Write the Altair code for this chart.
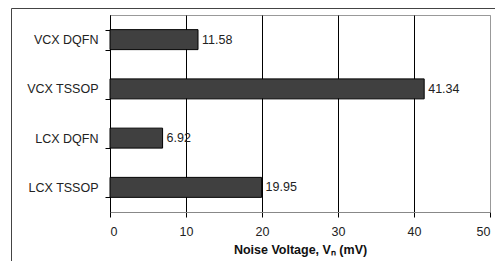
import altair as alt
import pandas as pd

categories = ["VCX DQFN", "VCX TSSOP", "LCX DQFN", "LCX TSSOP"]
values = [11.58, 41.34, 6.92, 19.95]
x_ticks = [0, 10, 20, 30, 40, 50]
x_title = "Noise Voltage, V\u2099 (mV)"

df = pd.DataFrame({"pkg": categories, "noise": values})
df["label"] = [f"{v:.2f}" for v in values]

W, H = 380, 197
FONT = "Liberation Sans"
FS = 12.5

y_enc = alt.Y(
    "pkg:N",
    sort=categories,
    scale=alt.Scale(paddingInner=0.594, paddingOuter=0.297),
    axis=alt.Axis(
        title=None,
        tickBand="extent",
        domainColor="#000",
        tickColor="#000",
        tickSize=5,
        labelPadding=7,
        labelFont=FONT,
        labelFontSize=FS,
        labelColor="#222",
        grid=False,
    ),
)

x_enc = alt.X(
    "noise:Q",
    scale=alt.Scale(domain=[0, 50], nice=False),
    axis=alt.Axis(
        values=x_ticks,
        title=x_title,
        grid=True,
        gridColor={"condition": {"test": "datum.value === 50", "value": "#999"}, "value": "#000"},
        gridOpacity=1,
        domainColor="#888",
        tickColor="#000",
        tickSize=5,
        labelPadding=8,
        labelFont=FONT,
        labelFontSize=FS,
        labelColor="#222",
        titleFont=FONT,
        titleFontSize=12.5,
        titleFontWeight="bold",
        titleColor="#111",
        titlePadding=6,
    ),
)

bars = alt.Chart(df).mark_bar(color="#404040", stroke="#000", strokeWidth=1).encode(
    x=x_enc, y=y_enc
)

labels = alt.Chart(df).mark_text(
    align="left", baseline="middle", dx=4, font=FONT, fontSize=FS, color="#222"
).encode(x="noise:Q", y=alt.Y("pkg:N", sort=categories), text="label:N")

one = alt.Data(values=[{"a": 1}])
frame_left = alt.Chart(one).mark_rule(color="#444", strokeWidth=1).encode(
    x=alt.value(-98.5), y=alt.value(-6.5), y2=alt.value(H + 60)
)
frame_top = alt.Chart(one).mark_rule(color="#444", strokeWidth=1).encode(
    x=alt.value(-98.5), x2=alt.value(W + 20), y=alt.value(-6.5)
)

chart = (
    alt.layer(frame_left, frame_top, bars, labels)
    .properties(
        width=W,
        height=H,
        autosize=alt.AutoSizeParams(type="none"),
        padding={"left": 102, "top": 7, "right": 5, "bottom": 49},
    )
    .configure_view(stroke="#999", strokeWidth=1)
)

chart.save("out.html", embed_options={"renderer": "svg", "actions": False})
